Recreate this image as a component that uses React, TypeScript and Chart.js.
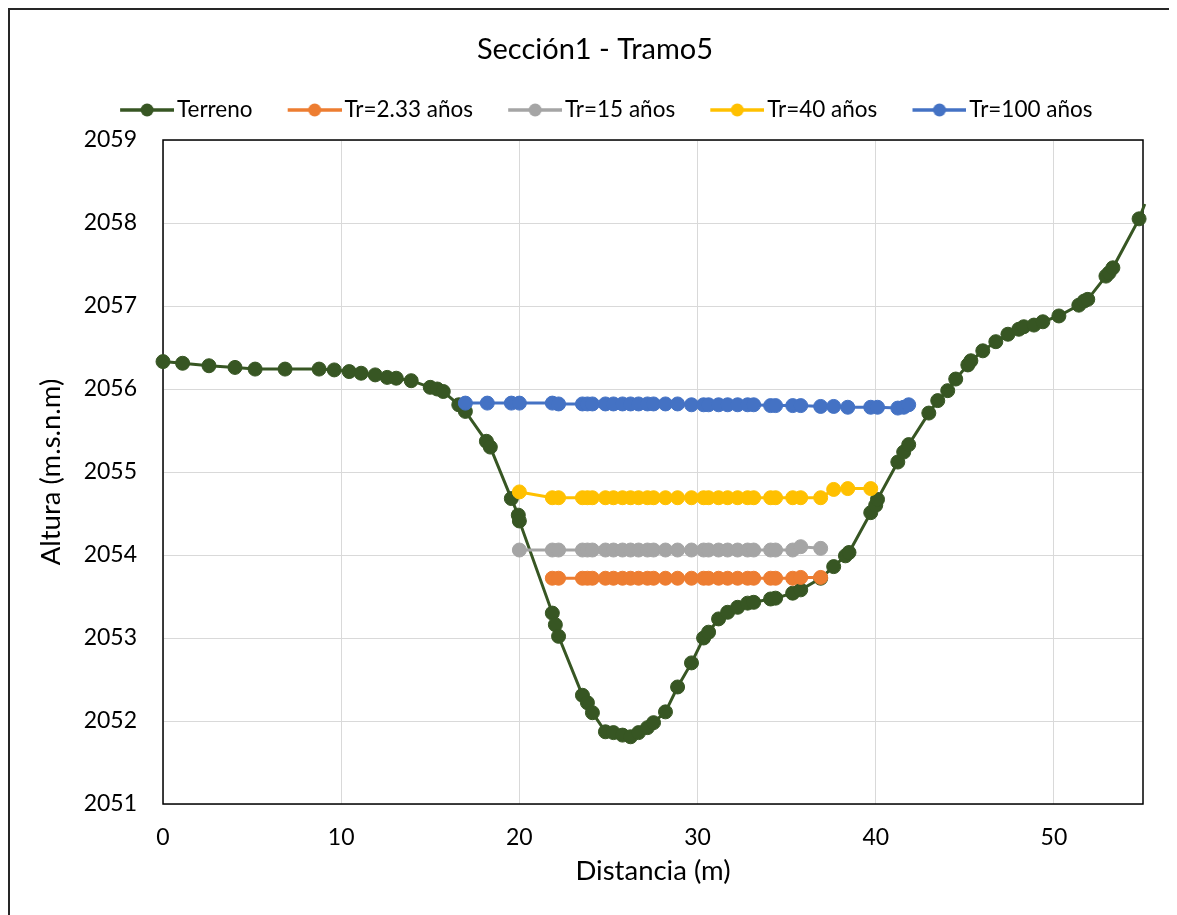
import React, { useEffect, useRef } from "react";
import { Chart, registerables } from "chart.js";

Chart.register(...registerables);

// ---------- text ----------
const chartTitle = "Sección1 - Tramo5";
const xAxisTitle = "Distancia (m)";
const yAxisTitle = "Altura (m.s.n.m)";
const seriesNames = ["Terreno", "Tr=2.33 años", "Tr=15 años", "Tr=40 años", "Tr=100 años"];
const seriesColors = ["#375623", "#ED7D31", "#A5A5A5", "#FFC000", "#4472C4"];

// ---------- axes ----------
const xMin = 0;
const xMax = 55;
const xStep = 10;
const yMin = 2051;
const yMax = 2059;
const yStep = 1;

// ---------- data ----------
const terrainX = [
  0.0, 1.1, 2.58, 4.04, 5.17, 6.85, 8.76, 9.61, 10.45, 11.12, 11.91, 12.58, 13.09, 13.93,
  15.0, 15.39, 15.73, 16.6, 16.97, 18.15, 18.37, 19.55, 19.94, 20.0, 21.85, 22.02, 22.2,
  23.54, 23.82, 24.1, 24.83, 25.28, 25.79, 26.24, 26.69, 27.19, 27.53, 28.2, 28.88, 29.66,
  30.34, 30.62, 31.18, 31.69, 32.25, 32.81, 33.15, 34.1, 34.38, 35.34, 35.79, 36.91, 37.64,
  38.3, 38.5, 39.72, 40.0, 40.1, 41.24, 41.57, 41.85, 42.98, 43.48, 44.04, 44.49, 45.17,
  45.34, 46.01, 46.74, 47.42, 48.03, 48.31, 48.88, 49.38, 50.28, 51.4, 51.7, 51.9, 52.92,
  53.1, 53.31, 54.78, 55.1,
];
const terrainY = [
  2056.33, 2056.31, 2056.28, 2056.26, 2056.24, 2056.24, 2056.24, 2056.23, 2056.21, 2056.19,
  2056.17, 2056.14, 2056.13, 2056.1, 2056.02, 2056.0, 2055.97, 2055.81, 2055.73, 2055.37,
  2055.3, 2054.68, 2054.48, 2054.41, 2053.3, 2053.16, 2053.02, 2052.31, 2052.22, 2052.1,
  2051.87, 2051.86, 2051.83, 2051.81, 2051.86, 2051.92, 2051.98, 2052.11, 2052.41, 2052.7,
  2053.0, 2053.07, 2053.23, 2053.31, 2053.37, 2053.42, 2053.43, 2053.47, 2053.48, 2053.54,
  2053.58, 2053.72, 2053.86, 2053.99, 2054.03, 2054.51, 2054.6, 2054.67, 2055.12, 2055.24,
  2055.33, 2055.71, 2055.86, 2055.98, 2056.12, 2056.29, 2056.34, 2056.46, 2056.57, 2056.66,
  2056.72, 2056.75, 2056.77, 2056.81, 2056.88, 2057.01, 2057.06, 2057.08, 2057.36, 2057.4,
  2057.46, 2058.05, 2058.23,
];

const tr233X = [
  21.85, 22.2, 23.54, 23.82, 24.1, 24.83, 25.28, 25.79, 26.24, 26.69, 27.19, 27.53, 28.2, 28.88,
  29.66, 30.34, 30.62, 31.18, 31.69, 32.25, 32.81, 33.15, 34.1, 34.38, 35.34, 35.79, 36.91,
];
const tr233Y = [
  2053.72, 2053.72, 2053.72, 2053.72, 2053.72, 2053.72, 2053.72, 2053.72, 2053.72, 2053.72,
  2053.72, 2053.72, 2053.72, 2053.72, 2053.72, 2053.72, 2053.72, 2053.72, 2053.72, 2053.72,
  2053.72, 2053.72, 2053.72, 2053.72, 2053.72, 2053.73, 2053.73,
];

const tr15X = [
  20.0, 21.85, 22.2, 23.54, 23.82, 24.1, 24.83, 25.28, 25.79, 26.24, 26.69, 27.19, 27.53, 28.2,
  28.88, 29.66, 30.34, 30.62, 31.18, 31.69, 32.25, 32.81, 33.15, 34.1, 34.38, 35.34, 35.79, 36.91,
];
const tr15Y = [
  2054.06, 2054.06, 2054.06, 2054.06, 2054.06, 2054.06, 2054.06, 2054.06, 2054.06, 2054.06,
  2054.06, 2054.06, 2054.06, 2054.06, 2054.06, 2054.06, 2054.06, 2054.06, 2054.06, 2054.06,
  2054.06, 2054.06, 2054.06, 2054.06, 2054.06, 2054.06, 2054.1, 2054.08,
];

const tr40X = [
  20.0, 21.85, 22.2, 23.54, 23.82, 24.1, 24.83, 25.28, 25.79, 26.24, 26.69, 27.19, 27.53, 28.2,
  28.88, 29.66, 30.34, 30.62, 31.18, 31.69, 32.25, 32.81, 33.15, 34.1, 34.38, 35.34, 35.79, 36.91,
  37.64, 38.43, 39.72,
];
const tr40Y = [
  2054.76, 2054.69, 2054.69, 2054.69, 2054.69, 2054.69, 2054.69, 2054.69, 2054.69, 2054.69,
  2054.69, 2054.69, 2054.69, 2054.69, 2054.69, 2054.69, 2054.69, 2054.69, 2054.69, 2054.69,
  2054.69, 2054.69, 2054.69, 2054.69, 2054.69, 2054.69, 2054.69, 2054.69, 2054.79, 2054.8,
  2054.8,
];

const tr100X = [
  16.97, 18.2, 19.55, 20.0, 21.85, 22.2, 23.54, 23.82, 24.1, 24.83, 25.28, 25.79, 26.24, 26.69,
  27.19, 27.53, 28.2, 28.88, 29.66, 30.34, 30.62, 31.18, 31.69, 32.25, 32.81, 33.15, 34.1, 34.38,
  35.34, 35.79, 36.91, 37.64, 38.43, 39.72, 40.1, 41.24, 41.57, 41.85,
];
const tr100Y = [
  2055.83, 2055.83, 2055.83, 2055.83, 2055.83, 2055.82, 2055.82, 2055.82, 2055.82, 2055.82,
  2055.82, 2055.82, 2055.82, 2055.82, 2055.82, 2055.82, 2055.82, 2055.82, 2055.81, 2055.81,
  2055.81, 2055.81, 2055.81, 2055.81, 2055.81, 2055.81, 2055.8, 2055.8, 2055.8, 2055.8,
  2055.79, 2055.79, 2055.78, 2055.78, 2055.78, 2055.77, 2055.78, 2055.81,
];

// ---------- layout constants (canvas pixels) ----------
const CANVAS_W = 1170;
const CANVAS_H = 912;
const AREA_LEFT = 153;
const AREA_TOP = 130;
const AREA_RIGHT = 1133;
const AREA_BOTTOM = 794;
const FONT = "Lato";
const TITLE_SIZE = 29;
const LEGEND_SIZE = 22.5;
const TICK_SIZE = 23;
const AXIS_TITLE_SIZE = 27.5;
const LEGEND_PAD = 12.5;
const LEGEND_BOX = 68.25;
const ICON_VISIBLE = 54;
const ICON_W = Math.round(LEGEND_BOX + LEGEND_SIZE - 6);

function pairs(xs: number[], ys: number[]) {
  return xs.map((x, i) => ({ x, y: ys[i] }));
}

function makeIcon(color: string) {
  const c = document.createElement("canvas");
  c.width = ICON_W;
  c.height = 16;
  const w = c.width;
  const g = c.getContext("2d")!;
  g.strokeStyle = color;
  g.lineWidth = 3.5;
  g.beginPath();
  g.moveTo(w - ICON_VISIBLE, 8);
  g.lineTo(w, 8);
  g.stroke();
  g.fillStyle = color;
  g.beginPath();
  g.arc(w - ICON_VISIBLE / 2, 8, 6.5, 0, Math.PI * 2);
  g.fill();
  return c;
}

const plotBorder = {
  id: "plotBorder",
  beforeDatasetsDraw(chart: any) {
    const { ctx, chartArea } = chart;
    ctx.save();
    ctx.strokeStyle = "#000";
    ctx.lineWidth = 1.5;
    ctx.strokeRect(chartArea.left, chartArea.top, chartArea.right - chartArea.left, chartArea.bottom - chartArea.top);
    ctx.restore();
  },
};

export default function App() {
  const ref = useRef<HTMLCanvasElement>(null);

  useEffect(() => {
    document.documentElement.style.overflow = "hidden";
    document.body.style.overflow = "hidden";
    const canvas = ref.current!;
    const icons = seriesColors.map((c) => makeIcon(c));
    const seriesData = [
      pairs(terrainX, terrainY),
      pairs(tr233X, tr233Y),
      pairs(tr15X, tr15Y),
      pairs(tr40X, tr40Y),
      pairs(tr100X, tr100Y),
    ];
    const datasets = seriesData.map((data, i) => ({
      label: seriesNames[i],
      data,
      showLine: true,
      borderColor: seriesColors[i],
      backgroundColor: seriesColors[i],
      borderWidth: 3,
      pointRadius: (ctx: any) => (ctx.raw && ctx.raw.x > xMax ? 0 : 7),
      pointBorderWidth: 1,
      pointBorderColor: seriesColors[i],
      pointBackgroundColor: seriesColors[i],
      pointStyle: "circle",
      order: i === 0 ? 10 : 5 - i,
      clip: false as any,
    }));

    Chart.defaults.font.family = FONT;
    Chart.defaults.color = "#000";

    const chart = new Chart(canvas, {
      type: "scatter",
      data: { datasets: datasets as any },
      plugins: [plotBorder],
      options: {
        animation: false,
        responsive: false,
        events: [],
        layout: { padding: 0 },
        plugins: {
          tooltip: { enabled: false },
          title: {
            display: true,
            text: chartTitle,
            color: "#000",
            font: { family: FONT, size: TITLE_SIZE, weight: "normal", lineHeight: 1.2 },
            padding: { top: 22.6, bottom: 18.85 },
          },
          subtitle: {
            display: true,
            text: " ",
            position: "top",
            weight: 500,
            font: { family: FONT, size: 1, lineHeight: 1 },
            padding: { top: 7.75, bottom: 0 },
          },
          legend: {
            display: true,
            position: "top",
            labels: {
              usePointStyle: true,
              pointStyleWidth: LEGEND_BOX,
              padding: LEGEND_PAD,
              color: "#000",
              font: { family: FONT, size: LEGEND_SIZE },
              generateLabels: (ch: any) =>
                ch.data.datasets.map((ds: any, i: number) => ({
                  text: ds.label,
                  fillStyle: ds.borderColor,
                  strokeStyle: ds.borderColor,
                  fontColor: "#000",
                  lineWidth: 0,
                  pointStyle: icons[i],
                  rotation: 0,
                  hidden: false,
                  datasetIndex: i,
                })),
            },
          },
        },
        scales: {
          x: {
            type: "linear",
            min: xMin,
            max: xMax,
            afterFit: (s: any) => {
              s.height = CANVAS_H - AREA_BOTTOM;
              s.paddingRight = CANVAS_W - AREA_RIGHT;
            },
            ticks: {
              stepSize: xStep,
              includeBounds: false,
              padding: 20,
              color: "#000",
              font: { family: FONT, size: TICK_SIZE },
              maxRotation: 0,
              callback: (v: any) => String(v),
            },
            grid: { color: "#D9D9D9", lineWidth: 1, drawTicks: false },
            border: { display: false },
            title: {
              display: true,
              text: xAxisTitle,
              color: "#000",
              font: { family: FONT, size: AXIS_TITLE_SIZE, lineHeight: 1.2 },
              padding: { top: 0, bottom: 34 },
            },
          },
          y: {
            type: "linear",
            min: yMin,
            max: yMax,
            afterFit: (s: any) => {
              s.width = AREA_LEFT;
              s.paddingTop = AREA_TOP;
            },
            ticks: {
              stepSize: yStep,
              padding: 26,
              color: "#000",
              font: { family: FONT, size: TICK_SIZE },
              callback: (v: any) => String(v),
            },
            grid: { color: "#D9D9D9", lineWidth: 1, drawTicks: false },
            border: { display: false },
            title: {
              display: true,
              text: yAxisTitle,
              color: "#000",
              font: { family: FONT, size: AXIS_TITLE_SIZE, lineHeight: 1.2 },
              padding: { top: 25, bottom: 0 },
            },
          },
        },
      } as any,
    });
    return () => chart.destroy();
  }, []);

  return (
    <div style={{ width: 1169, height: 907, overflow: "hidden" }}>
      <div
        style={{
          width: CANVAS_W,
          height: CANVAS_H,
          borderTop: "2px solid #262626",
          borderLeft: "2px solid #262626",
          borderRight: "none",
          borderBottom: "none",
          background: "#fff",
        }}
      >
        <canvas
          ref={ref}
          width={CANVAS_W}
          height={CANVAS_H}
          style={{ display: "block", width: CANVAS_W, height: CANVAS_H }}
        />
      </div>
    </div>
  );
}
